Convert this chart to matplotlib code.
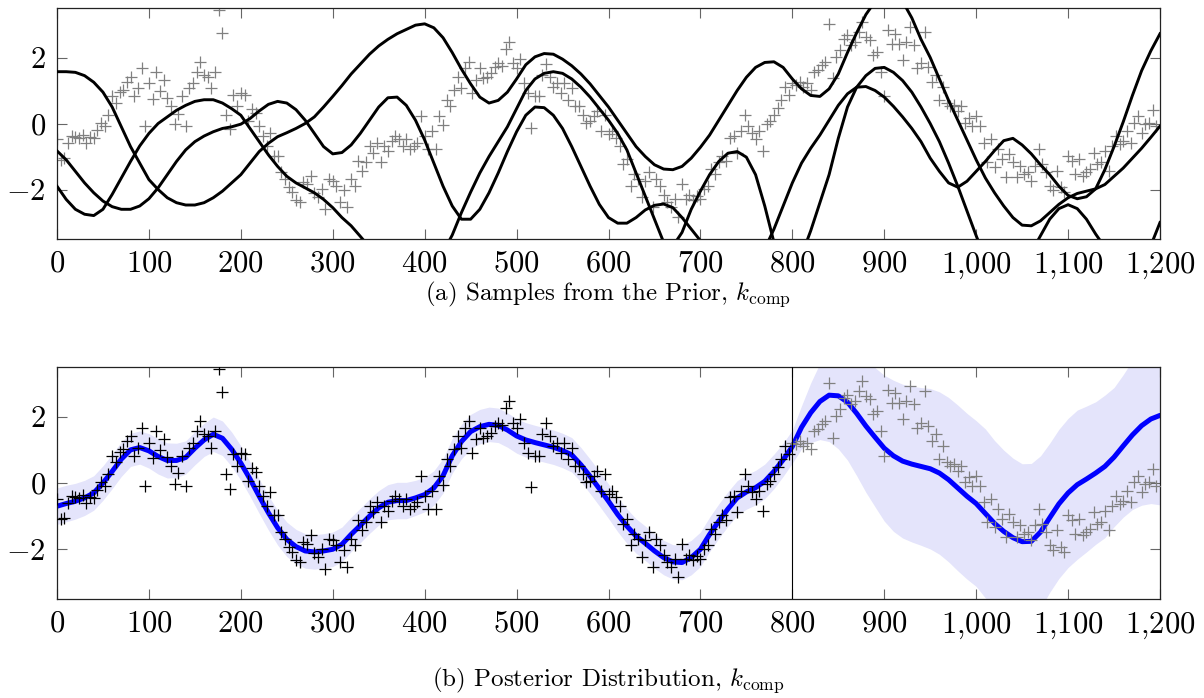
import numpy as np
import matplotlib.pyplot as plt
from matplotlib.ticker import FuncFormatter, MultipleLocator

plt.rcParams['font.family'] = 'serif'
plt.rcParams['font.serif'] = ['cmr10']
plt.rcParams['mathtext.fontset'] = 'cm'
plt.rcParams['axes.formatter.use_mathtext'] = True

nan = np.nan

# observations, one every 4 time steps
x_obs = np.arange(0, 1200, 4)
y_obs = [
    -0.48, -1.1, -1.05, -0.6, -0.38, -0.42, -0.45, -0.35, -0.6, -0.42, -0.45, -0.2, 0.02,
    -0.08, 0.27, 0.82, 0.62, 0.95, 1.02, 1.27, 1.42, 0.82, 1.07, 1.67, -0.08,
    1.22, 0.75, 1.57, 1.0, 1.32, 0.77, 0.52, -0.03, 0.3, 0.82, -0.08, 1.07, 1.22,
    1.57, 1.87, 1.47, 1.42, 1.07, 1.57, 3.43, 2.75, 0.27, -0.18, 0.87, 0.52,
    0.92, 0.87, 0.07, 0.45, 0.32, -0.08, -0.38, -0.68, -0.28, -0.98, -0.98, -1.48, -1.68,
    -1.93, -2.08, -2.33, -2.38, -1.78, -1.83, -1.58, -2.1, -2.23, -1.98, -2.58, -1.68,
    -1.73, -1.88, -2.38, -2.03, -2.53, -1.68, -1.88, -1.13, -1.43, -1.18, -0.68, -0.88, -0.58,
    -1.18, -0.68, -0.83, -0.53, -0.38, -0.48, -0.68, -0.48, -0.78, -0.68, -0.58, 0.22,
    -0.38, -0.78, -0.23, -0.78, 0.22, -0.05, 0.72, 0.52, 1.02, 1.42, 1.07, 1.67, 1.87,
    0.92, 1.32, 1.67, 1.37, 1.42, 1.52, 1.72, 1.82, 1.75, 2.27, 2.47, 1.82,
    1.67, 1.94, 1.22, 0.92, -0.13, 0.82, 0.82, 1.47, 1.8, 1.42, 1.12, 1.22, 0.92,
    1.22, 0.72, 1.07, 0.52, 0.52, 0.27, 0.02, 0.07, 0.22, 0.37, -0.23, 0.27,
    -0.33, -0.23, -0.43, -0.68, -1.23, -1.08, -1.88, -1.53, -1.68, -2.23, -1.73, -1.48, -2.53,
    -1.68, -1.88, -2.18, -2.38, -2.53, -2.28, -2.83, -1.83, -2.28, -2.18, -2.33, -2.2,
    -2.28, -1.98, -1.88, -1.38, -1.53, -1.18, -0.98, -1.13, -0.43, -0.38, -0.88, -0.23, 0.27,
    -0.08, -0.28, -0.48, -0.23, -0.83, -0.03, 0.07, 0.27, 0.47, 0.72, 1.12, 0.87,
    1.22, 1.17, 1.27, 1.12, 1.22, 1.02, 1.57, 1.62, 1.77, 1.87, 3.03, 1.37, 2.02,
    2.22, 2.57, 2.67, 2.37, 2.47, 2.77, 3.08, 2.62, 2.52, 2.07, 2.17, 1.57,
    0.82, 2.82, 2.42, 2.72, 2.42, 1.92, 2.47, 2.92, 2.37, 1.67, 1.82, 2.77, 1.72,
    1.27, 1.47, 0.72, 1.12, 0.62, 0.52, 0.57, 0.37, 0.52, 0.02, 0.17, -0.08,
    0.22, -0.08, -0.58, -1.18, -0.48, -1.33, -0.78, -1.08, -1.63, -0.93, -1.18, -1.63, -1.28,
    -1.53, -1.48, -1.73, -1.28, -0.78, -1.23, -1.48, -1.88, -2.03, -1.43, -1.93, -2.08,
    -0.98, -1.13, -1.53, -1.08, -1.58, -1.48, -1.38, -0.88, -1.23, -1.18, -0.83, -1.43, -0.68,
    -0.38, -0.63, -0.53, -0.23, -0.58, 0.02, 0.22, -0.28, -0.03, 0.02, 0.42, -0.08,
]
y_obs = np.array(y_obs)
x_split = 800  # training data ends here

# grid for the curves
x_grid = np.arange(0, 1201, 10)

# four draws from the prior (nan = off the plotted range)
prior_1 = [
    1.57, 1.57, 1.55, 1.45, 1.25, 0.95, 0.5, -0.1, -0.7, -1.2,
    -1.7, -2.0, -2.25, -2.4, -2.47, -2.47, -2.4, -2.25, -2.05, -1.8,
    -1.55, -1.2, -0.85, -0.6, -0.4, -0.28, -0.15, 0.0, 0.2, 0.5,
    0.82, 1.15, 1.5, 1.8, 2.1, 2.35, 2.55, 2.72, 2.85, 2.98,
    3.02, 2.9, 2.6, 2.15, 1.65, 1.2, 0.8, 0.62, 0.7, 0.95,
    1.35, 1.78, 2.02, 2.12, 2.1, 1.95, 1.75, 1.5, 1.2, 0.85,
    0.5, 0.1, -0.3, -0.7, -1.0, -1.25, -1.38, -1.40, -1.3, -1.05,
    -0.72, -0.35, 0.1, 0.55, 1.0, 1.4, 1.7, 1.85, 1.87, 1.7,
    1.35, 1.05, 0.85, 0.82, 1.05, 1.5, 2.15, 2.75, 3.3, 3.7,
    nan, nan, 3.7, 3.2, 2.55, 2.0, 1.35, 0.7, 0.1, -0.5,
    -1.1, -1.65, -2.1, -2.5, -2.85, -3.08, -3.1, -2.95, -2.7, -2.45,
    -2.25, -2.12, -2.05, -1.98, -1.85, -1.6, -1.35, -1.05, -0.75, -0.42,
    -0.08,
]
prior_2 = [
    -0.83, -1.1, -1.45, -1.8, -2.1, -2.35, -2.52, -2.6, -2.6, -2.5,
    -2.28, -1.95, -1.55, -1.15, -0.8, -0.55, -0.38, -0.25, -0.15, -0.1,
    -0.02, 0.15, 0.38, 0.58, 0.67, 0.62, 0.42, 0.1, -0.3, -0.7,
    -0.92, -0.88, -0.65, -0.3, 0.1, 0.5, 0.78, 0.8, 0.55, 0.1,
    -0.5, -1.2, -1.9, -2.5, -2.9, -2.9, -2.6, -2.1, -1.5, -0.85,
    -0.25, 0.25, 0.5, 0.48, 0.25, -0.15, -0.7, -1.3, -1.9, -2.45,
    -2.85, -3.02, -3.02, -2.85, -2.62, -2.48, -2.44, -2.55, -2.85, -3.2,
    -3.55, nan, nan, nan, nan, nan, nan, -3.8, -3.2, -2.5,
    -1.8, -1.2, -0.75, -0.35, 0.1, 0.55, 0.9, 1.1, 1.12, 1.0,
    0.8, 0.52, 0.2, -0.15, -0.55, -1.05, -1.45, -1.8, -1.93, -1.75,
    -1.45, -1.15, -0.82, -0.52, -0.45, -0.65, -0.92, -1.25, -1.55, -1.9,
    -2.18, -2.28, -2.22, -1.98, -1.4, -0.7, 0.05, 0.85, 1.6, 2.2,
    2.72,
]
prior_3 = [
    -1.9, -2.3, -2.6, -2.75, -2.79, -2.6, -2.15, -1.65, -1.15, -0.68,
    -0.3, 0.0, 0.2, 0.4, 0.55, 0.67, 0.72, 0.72, 0.62, 0.45,
    0.25, -0.15, -0.55, -0.95, -1.3, -1.6, -1.8, -1.95, -2.1, -2.3,
    -2.55, -2.85, -3.1, -3.42, -3.75, nan, nan, nan, nan, nan,
    nan, nan, -3.9, -3.38, -2.7, -2.08, -1.5, -1.0, -0.55, -0.1,
    0.45, 1.0, 1.35, 1.52, 1.57, 1.52, 1.35, 1.1, 0.8, 0.45,
    0.1, -0.3, -0.8, -1.5, -2.2, -2.9, -3.6, -3.72, -3.3, -2.6,
    -2.05, -1.55, -1.15, -0.9, -0.85, -1.02, -1.55, -2.5, -3.6, nan,
    nan, nan, nan, nan, nan, nan, nan, nan, nan, nan,
    nan, nan, nan, nan, nan, nan, nan, nan, nan, nan,
    nan, nan, nan, nan, nan, nan, -3.9, -3.4, -2.9, -2.58,
    -2.46, -2.58, -2.9, -3.35, -3.75, nan, nan, nan, nan, -3.7,
    -3.0,
]
prior_4 = [
    nan, nan, nan, nan, nan, nan, nan, nan, nan, nan,
    nan, nan, nan, nan, nan, nan, nan, nan, nan, nan,
    nan, nan, nan, nan, nan, nan, nan, nan, nan, nan,
    nan, nan, nan, nan, nan, nan, nan, nan, nan, nan,
    nan, nan, nan, nan, nan, nan, nan, nan, nan, nan,
    nan, nan, nan, nan, nan, nan, nan, nan, nan, nan,
    nan, nan, nan, nan, nan, nan, nan, nan, nan, nan,
    nan, nan, nan, nan, nan, nan, nan, nan, nan, nan,
    nan, -4.0, -3.25, -2.4, -1.55, -0.45, 0.5, 1.1, 1.45, 1.67,
    1.7, 1.55, 1.3, 0.95, 0.5, 0.0, -0.55, -1.2, -1.9, -2.65,
    -3.4, -4.1, nan, nan, nan, nan, nan, nan, nan, nan,
    nan, nan, nan, nan, nan, nan, nan, nan, nan, nan,
    nan,
]
prior_draws = [prior_1, prior_2, prior_3, prior_4]

# posterior mean and half width of the shaded band
post_mean = [
    -0.70, -0.62, -0.55, -0.45, -0.30, 0.0, 0.35, 0.72, 1.00, 1.07,
    0.97, 0.80, 0.68, 0.68, 0.77, 1.05, 1.30, 1.47, 1.35, 1.02,
    0.60, 0.12, -0.40, -0.90, -1.35, -1.70, -1.92, -2.05, -2.08, -2.05,
    -2.0, -1.85, -1.55, -1.28, -1.0, -0.75, -0.58, -0.53, -0.53, -0.45,
    -0.35, -0.15, 0.22, 0.82, 1.25, 1.55, 1.70, 1.77, 1.74, 1.6,
    1.42, 1.30, 1.22, 1.15, 1.08, 0.98, 0.85, 0.55, 0.20, -0.17,
    -0.55, -0.95, -1.30, -1.60, -1.82, -2.05, -2.25, -2.38, -2.40, -2.25,
    -2.0, -1.55, -1.15, -0.78, -0.45, -0.27, -0.14, 0.05, 0.35, 0.70,
    1.10, 1.68, 2.12, 2.46, 2.65, 2.63, 2.44, 2.10, 1.72, 1.38,
    1.05, 0.82, 0.66, 0.57, 0.50, 0.43, 0.30, 0.10, -0.15, -0.40,
    -0.62, -0.92, -1.22, -1.46, -1.65, -1.77, -1.76, -1.48, -1.05, -0.63,
    -0.30, -0.05, 0.12, 0.30, 0.50, 0.78, 1.12, 1.45, 1.73, 1.93,
    2.04,
]
post_band = [
    0.55, 0.55, 0.54, 0.53, 0.52, 0.52, 0.52, 0.52, 0.5, 0.5,
    0.52, 0.53, 0.53, 0.52, 0.5, 0.5, 0.5, 0.52, 0.52, 0.52,
    0.52, 0.52, 0.52, 0.52, 0.52, 0.52, 0.52, 0.52, 0.52, 0.52,
    0.52, 0.52, 0.52, 0.52, 0.52, 0.52, 0.53, 0.55, 0.55, 0.53,
    0.52, 0.52, 0.52, 0.52, 0.52, 0.52, 0.52, 0.52, 0.52, 0.52,
    0.52, 0.52, 0.52, 0.52, 0.52, 0.52, 0.52, 0.52, 0.52, 0.52,
    0.52, 0.52, 0.52, 0.52, 0.52, 0.52, 0.52, 0.52, 0.52, 0.52,
    0.52, 0.52, 0.52, 0.52, 0.52, 0.52, 0.52, 0.52, 0.52, 0.5,
    0.5, 0.65, 0.9, 1.15, 1.4, 1.6, 1.75, 1.88, 2.0, 2.1,
    2.2, 2.28, 2.32, 2.35, 2.38, 2.42, 2.45, 2.48, 2.5, 2.5,
    2.5, 2.55, 2.5, 2.45, 2.4, 2.35, 2.35, 2.3, 2.25, 2.25,
    2.25, 2.25, 2.2, 2.15, 2.15, 2.1, 2.15, 2.25, 2.4, 2.55,
    2.7,
]

post_mean = np.array(post_mean)
post_band = np.array(post_band)


def tick_fmt(v, pos):
    s = f"{v:,.0f}".replace(",", "{,}")
    return f"${s}$"


def style_axis(ax):
    ax.set_xlim(0, 1200)
    ax.set_ylim(-3.5, 3.5)
    ax.xaxis.set_major_locator(MultipleLocator(100))
    ax.yaxis.set_major_locator(MultipleLocator(2))
    ax.xaxis.set_major_formatter(FuncFormatter(tick_fmt))
    ax.yaxis.set_major_formatter(FuncFormatter(tick_fmt))
    ax.tick_params(direction='in', length=7, width=0.8, color='#666666',
                   top=True, right=True, labelsize=22, pad=8)
    for sp in ax.spines.values():
        sp.set_linewidth(0.9)
        sp.set_color('#222222')


fig = plt.figure(figsize=(12.04, 6.98), dpi=100)

# prior samples
ax1 = fig.add_axes([57 / 1204, 1 - 239 / 698, 1103 / 1204, 231 / 698])
ax1.plot(x_obs, y_obs, '+', color='#808080', ms=8, mew=0.9, zorder=2)
for draw in prior_draws:
    ax1.plot(x_grid, draw, color='black', lw=2.1, zorder=3)
style_axis(ax1)

# posterior
ax2 = fig.add_axes([57 / 1204, 1 - 599 / 698, 1103 / 1204, 232 / 698])
ax2.fill_between(x_grid, post_mean - post_band, post_mean + post_band,
                 color='#e4e4fb', lw=0, zorder=1)
ax2.plot(x_grid, post_mean, color='#0000ff', lw=3.6, zorder=2,
         solid_capstyle='round', solid_joinstyle='round')
train = x_obs < x_split
ax2.plot(x_obs[train], y_obs[train], '+', color='black', ms=8, mew=0.9, zorder=3)
ax2.plot(x_obs[~train], y_obs[~train], '+', color='#808080', ms=8, mew=0.9, zorder=3)
ax2.axvline(x_split, color='black', lw=0.8, zorder=4)
style_axis(ax2)

fig.text(608 / 1204, 1 - 294 / 698,
         r"(a) Samples from the Prior, $k_{\mathrm{comp}}$",
         ha='center', va='center', fontsize=18)
fig.text(608 / 1204, 1 - 680 / 698,
         r"(b) Posterior Distribution, $k_{\mathrm{comp}}$",
         ha='center', va='center', fontsize=18)

fig.savefig('out.png', dpi=100)
